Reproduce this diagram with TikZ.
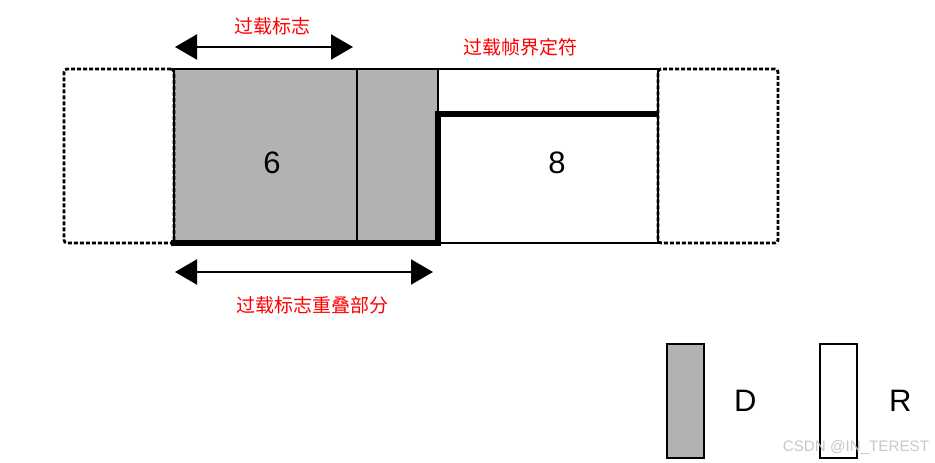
\documentclass[tikz,border=0pt]{standalone}
\usepackage{fontspec}
\setmainfont{Liberation Sans}
\newfontfamily\cjk{Noto Sans CJK SC}
\usepackage{tikz}
\usetikzlibrary{arrows.meta,positioning,calc}
\definecolor{shade}{HTML}{B2B2B2}
\definecolor{note}{HTML}{FF0000}
\definecolor{mark}{HTML}{C8C8C8}

\begin{document}
\begin{tikzpicture}[x=1pt,y=-1pt,node distance=0pt,>=Triangle,
 frame/.style={draw,line width=2.2pt,fill=shade,inner sep=0pt,outer sep=0pt,minimum height=174pt},
 dotbox/.style={draw,line width=2.8pt,dash pattern=on 4pt off 2pt,rounded corners=3pt,inner sep=0pt,outer sep=0pt,minimum height=174pt},
 heavy/.style={line width=5.5pt,line join=miter},
 span/.style={line width=2.2pt,arrows={Triangle[length=22pt,width=25pt]-Triangle[length=22pt,width=25pt]}},
 lbl/.style={font=\cjk\fontsize{19}{21}\selectfont,text=note,inner sep=0pt},
 big/.style={font=\fontsize{31}{34}\selectfont,inner sep=0pt}]
 \useasboundingbox (0,0) rectangle (935,463);
 % frame fields
 \node[frame,minimum width=183pt,anchor=north west] (flag) at (174,69) {};
 \node[frame,minimum width=81pt,right=of flag] (echo) {};
 \node[frame,fill=white,minimum width=220pt,right=of echo] (delim) {};
 \node[dotbox,minimum width=110pt,left=of flag] (prev) {};
 \node[dotbox,minimum width=120pt,right=of delim] (next) {};
 \node[big] (six) at (272,163) {6};
 \node[big] (eight) at (557,163) {8};
 % overlapping flag border
 \coordinate (split) at ($(delim.north west)!0.26!(delim.south west)$);
 \draw[heavy] (delim.south west) -- (split) -- (split -| delim.east);
 \draw[heavy,line cap=rect] (flag.south west) -- (delim.south west);
 % extents
 \coordinate (ta) at ([xshift=1pt,yshift=22pt]flag.north west);
 \coordinate (tb) at ([xshift=-4pt,yshift=22pt]flag.north east);
 \draw[span] (ta) -- (tb);
 \node[lbl] (tlab) at ($(ta)!0.5!(tb)+(8,-21)$) {过载标志};
 \coordinate (ba) at ([xshift=1pt,yshift=-29pt]flag.south west);
 \coordinate (bb) at ([xshift=-5pt,yshift=-29pt]echo.south east);
 \draw[span] (ba) -- (bb);
 \node[lbl] (blab) at ($(ba)!0.5!(bb)+(8,33)$) {过载标志重叠部分};
 \node[lbl] (dlab) at (520,47) {过载帧界定符};
 % legend
 \node[frame,minimum width=37pt,minimum height=114pt,anchor=north west] (keyd) at (667,344) {};
 \node[big,right=30pt of keyd] (dtxt) {D};
 \node[frame,fill=white,minimum width=37pt,minimum height=114pt,anchor=north west] (keyr) at (820,344) {};
 \node[big,right=32pt of keyr] (rtxt) {R};
 \node[text=mark,font=\fontsize{15.2}{17}\selectfont,inner sep=0pt] (wm) at (856,447) {CSDN @IN\_TEREST};
\end{tikzpicture}
\end{document}
